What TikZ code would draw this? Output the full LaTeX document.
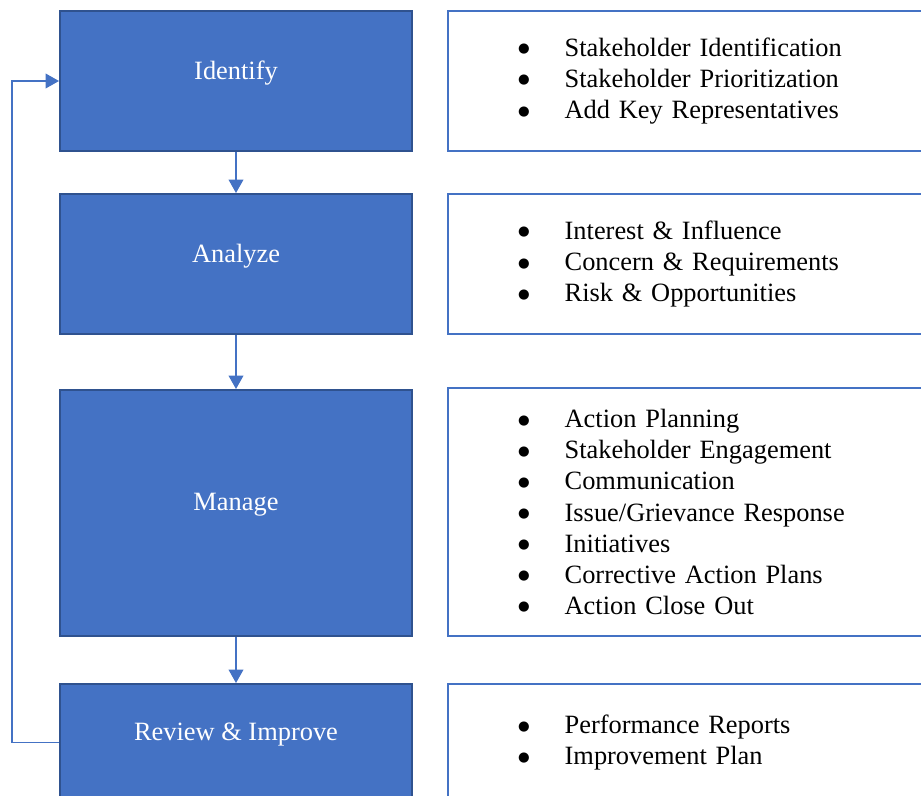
\documentclass[tikz,border=0pt]{standalone}
\usepackage{fontspec}
\setmainfont{Liberation Serif}
\newfontfamily\dotfont{DejaVu Sans}
\usepackage{tikz}
\usetikzlibrary{positioning,arrows.meta}
\definecolor{stageblue}{HTML}{4472C4}
\definecolor{stageedge}{HTML}{2F528F}
\newcommand{\bitem}[1]{\makebox[35pt][l]{\raisebox{2.6pt}{\dotfont\fontsize{10}{11}\selectfont ●}}#1}
\tikzset{
  stagebox/.style={anchor=north west, draw=stageedge, fill=stageblue, line width=1.5pt, minimum width=264pt, inner sep=0pt},
  stagetext/.style={text=white, font=\fontsize{19.8}{23.3}\selectfont, yshift=6pt},
  listbox/.style={anchor=north west, draw=stageblue, line width=1.5pt, align=left, text width=270pt, inner xsep=52.5pt, inner ysep=0pt,
        font=\fontsize{19.8}{23.3}\selectfont},
  flow/.style={draw=stageblue, line width=1.1pt, -{Triangle[width=11pt,length=10pt]}}
}

\begin{document}
\begin{tikzpicture}[x=0.75pt,y=-0.75pt]
\clip (0,0) rectangle (921,796);
\fill[white] (0,0) rectangle (921,796);

% left column: the four stages
\node[stagebox, minimum height=105pt, label={[stagetext]center:Identify}] (id) at (59,10) {};
\node[stagebox, minimum height=105pt, label={[stagetext]center:Analyze}] (an) at (59,193) {};
\node[stagebox, minimum height=184.5pt, label={[stagetext]center:Manage}] (mg) at (59,389) {};
\node[stagebox, minimum height=88pt, label={[stagetext]center:Review \& Improve}] (rv) at (59,683) {};

% right column: what each stage covers
\node[listbox, minimum height=105pt] (idlist) at (447,10) {\bitem{Stakeholder Identification}\\\bitem{Stakeholder Prioritization}\\\bitem{Add Key Representatives}};
\node[listbox, minimum height=105pt] (anlist) at (447,193) {\bitem{Interest \& Influence}\\\bitem{Concern \& Requirements}\\\bitem{Risk \& Opportunities}};
\node[listbox, minimum height=186pt] (mglist) at (447,387) {\bitem{Action Planning}\\\bitem{Stakeholder Engagement}\\\bitem{Communication}\\\bitem{Issue/Grievance Response}\\\bitem{Initiatives}\\\bitem{Corrective Action Plans}\\\bitem{Action Close Out}};
\node[listbox, minimum height=88pt] (rvlist) at (447,683) {\bitem{Performance Reports}\\\bitem{Improvement Plan}};

% flow
\draw[flow] (id.south) -- (an.north);
\draw[flow] (an.south) -- (mg.north);
\draw[flow] (mg.south) -- (rv.north);
\draw[flow] (rv.west) -- ++(-47,0) |- (id.west);
\end{tikzpicture}
\end{document}
